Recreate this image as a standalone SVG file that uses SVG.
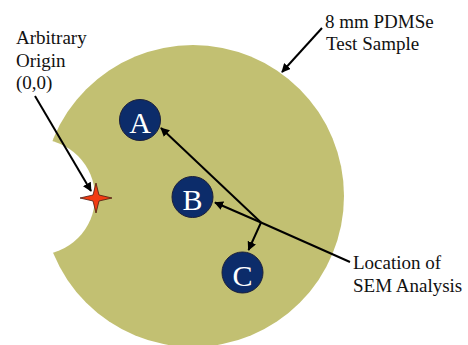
<svg xmlns="http://www.w3.org/2000/svg" width="468" height="345" viewBox="0 0 468 345">
<defs>
<style>
.lbl{font-family:'Liberation Serif','DejaVu Serif',serif;font-size:19px;fill:#111}
.ltr{font-family:'Liberation Serif','DejaVu Serif',serif;font-size:30px;fill:#fff;text-anchor:middle}
.spot{fill:#0c2c6a;stroke:#1b1f3a;stroke-width:1}
.con{stroke:#000;stroke-width:2;fill:none}
.arr{marker-end:url(#ah)}
</style>
<marker id="ah" viewBox="0 0 10 10" refX="9" refY="5" markerWidth="4.5" markerHeight="4.5" orient="auto" markerUnits="strokeWidth">
<path d="M0,0 L10,5 L0,10 z" fill="#000"/>
</marker>
<mask id="notch">
<rect width="468" height="345" fill="#fff"/>
<circle cx="37" cy="197" r="58" fill="#000"/>
</mask>
</defs>
<rect width="468" height="345" fill="#fff"/>
<g id="sample">
<circle cx="193" cy="196" r="151" fill="#c2c072" mask="url(#notch)"/>
</g>
<g id="origin-star">
<path d="M80,198 L93,195 L96,183 L99,195 L112,198 L99,201 L96,213 L93,201 Z" fill="#f23c12" stroke="#4a1a10" stroke-width="0.8"/>
</g>
<g id="spot-A">
<circle class="spot" cx="140" cy="120" r="20.5"/>
<text class="ltr" x="140" y="133">A</text>
</g>
<g id="spot-B">
<circle class="spot" cx="192.5" cy="197" r="20.5"/>
<text class="ltr" x="192.5" y="210">B</text>
</g>
<g id="spot-C">
<circle class="spot" cx="242.5" cy="272.5" r="20.5"/>
<text class="ltr" x="242.5" y="285.5">C</text>
</g>
<g id="connectors">
<line class="con arr" x1="35" y1="96" x2="91" y2="191"/>
<line class="con arr" x1="322" y1="28" x2="282" y2="72"/>
<line class="con" x1="350" y1="262" x2="261" y2="222.5"/>
<line class="con arr" x1="261" y1="222.5" x2="161" y2="128"/>
<line class="con arr" x1="261" y1="222.5" x2="215" y2="202.5"/>
<line class="con arr" x1="261" y1="222.5" x2="248.5" y2="250"/>
</g>
<g id="label-origin">
<text class="lbl" x="16" y="44">Arbitrary</text>
<text class="lbl" x="16" y="66.5">Origin</text>
<text class="lbl" x="16" y="89">(0,0)</text>
</g>
<g id="label-sample">
<text class="lbl" x="325" y="28">8 mm PDMSe</text>
<text class="lbl" x="326" y="50">Test Sample</text>
</g>
<g id="label-sem">
<text class="lbl" x="353" y="269">Location of</text>
<text class="lbl" x="353" y="291.5">SEM Analysis</text>
</g>
</svg>
